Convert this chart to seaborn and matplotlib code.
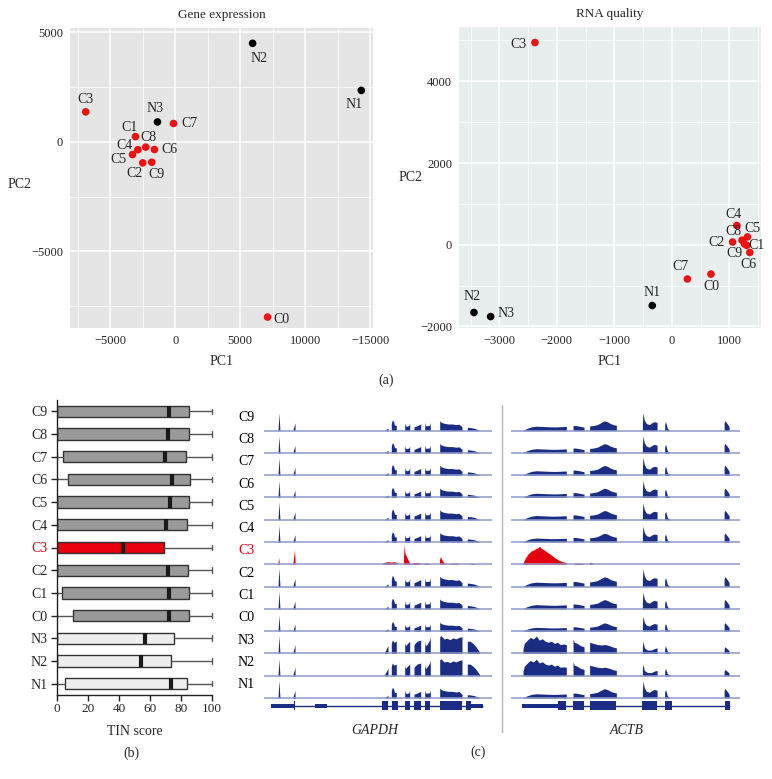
import numpy as np
import pandas as pd
import matplotlib
matplotlib.use("Agg")
import matplotlib.pyplot as plt
import seaborn as sns
from matplotlib.ticker import MultipleLocator, FixedLocator
from matplotlib.lines import Line2D
from matplotlib.patches import Rectangle

# ---- (a) PCA ----
pca_samples = ["C0", "C1", "C2", "C3", "C4", "C5", "C6", "C7", "C8", "C9", "N1", "N2", "N3"]
ge_pc1 = [7100, -3050, -2490, -6870, -2870, -3280, -1590, -130, -2260, -1800, 14300, 5950, -1360]
ge_pc2 = [-8000, 240, -960, 1370, -360, -580, -350, 840, -240, -930, 2350, 4500, 910]
rq_pc1 = [680, 1300, 1055, -2380, 1130, 1315, 1355, 270, 1220, 1260, -340, -3440, -3150]
rq_pc2 = [-720, -15, 65, 4950, 470, 190, -190, -840, 110, 20, -1490, -1660, -1760]
ge_xticklabels = ["\u22125000", "0", "5000", "10000", "\u221215000"]

# ---- (b) TIN score boxes: min, q1, median, q3, max ----
box_samples = ["C9", "C8", "C7", "C6", "C5", "C4", "C3", "C2", "C1", "C0", "N3", "N2", "N1"]
tin_min = [0, 0, 0, 0, 0, 0, 0, 0, 0, 0, 0, 0, 0]
tin_q1 = [0, 0, 3.7, 7.1, 0, 0, 0, 0, 3.4, 10.3, 0, 0, 5.2]
tin_med = [72.0, 71.4, 69.7, 74.2, 72.7, 70.5, 42.4, 71.6, 72.5, 72.5, 56.8, 54.4, 73.3]
tin_q3 = [85.2, 85.2, 83.4, 85.6, 85.2, 84.0, 68.8, 84.5, 85.2, 85.0, 75.5, 73.5, 84.0]
tin_max = [100, 100, 100, 100, 100, 100, 100, 100, 100, 100, 100, 100, 100]

# ---- (c) coverage tracks (x along track, height in track units) ----
tracks = ["C9", "C8", "C7", "C6", "C5", "C4", "C3", "C2", "C1", "C0", "N3", "N2", "N1"]
track_pattern = ["C", "C", "C", "C", "C", "C", "C3", "C", "C", "C", "N", "N", "C"]
gapdh_scale = [1.0, 0.95, 1.0, 0.95, 1.0, 0.95, 1.0, 1.05, 1.0, 0.9, 1.0, 0.95, 1.0]
actb_scale = [1.0, 0.95, 1.0, 0.95, 0.95, 0.9, 1.0, 1.0, 0.95, 0.85, 1.0, 0.95, 0.95]

gapdh_C = [
    ([14.0, 14.6, 15.0, 15.5, 16.0], [0, 0.5, 0.8, 0.35, 0]),
    ([29.0, 31.0, 31.1], [0.05, 0.35, 0]),
    ([120.5, 124.0, 124.1], [0, 0.12, 0]),
    ([127.3, 128.3, 129.5, 130.5, 132.3], [0.32, 0.48, 0.42, 0.25, 0.24]),
    ([140.7, 141.5, 143.2, 145.0, 145.7], [0.35, 0.22, 0.2, 0.24, 0.35]),
    ([150.0, 153.0, 156.7], [0.17, 0.22, 0.3]),
    ([160.7, 161.5, 163.5, 165.5, 166.3], [0.37, 0.22, 0.22, 0.24, 0.37]),
    ([175.7, 177, 180, 184, 188, 192, 195, 198], [0.45, 0.38, 0.33, 0.3, 0.3, 0.27, 0.29, 0.17]),
    ([203.3, 206, 210, 213, 215.7], [0.15, 0.14, 0.11, 0.06, 0.0]),
]
gapdh_N = [
    ([14.0, 14.6, 15.0, 15.5, 16.0], [0, 0.5, 0.8, 0.35, 0]),
    ([29.0, 31.0, 31.1], [0.05, 0.4, 0]),
    ([120.5, 124.0], [0.05, 0.35]),
    ([127.3, 128.3, 130.0, 132.3], [0.45, 0.6, 0.5, 0.55]),
    ([140.7, 141.5, 143.5, 145.7], [0.5, 0.35, 0.45, 0.55]),
    ([150.0, 153.0, 156.7], [0.4, 0.55, 0.6]),
    ([160.7, 161.5, 163.0, 165.5, 166.3], [0.55, 0.35, 0.4, 0.6, 0.75]),
    ([175.7, 177, 180, 183, 186, 189, 192, 195, 198], [0.75, 0.8, 0.65, 0.68, 0.62, 0.7, 0.65, 0.72, 0.75]),
    ([203.3, 206, 209, 212, 215.7], [0.55, 0.55, 0.45, 0.3, 0.05]),
]
gapdh_C3 = [
    ([14.0, 14.8, 15.3], [0.1, 0.3, 0]),
    ([29.0, 30.5, 31.2], [0.1, 0.65, 0]),
    ([118, 121, 124, 127, 130, 133], [0.03, 0.1, 0.12, 0.1, 0.12, 0.08]),
    ([139.5, 140.2, 141, 142.5, 144.5, 146], [0.3, 0.85, 0.5, 0.35, 0.15, 0.05]),
    ([148, 150, 153, 156], [0.05, 0.08, 0.09, 0.05]),
    ([160, 163, 165], [0.05, 0.06, 0.03]),
    ([175.5, 176.3, 178, 180, 182], [0.2, 0.35, 0.18, 0.08, 0.03]),
    ([186, 190, 194], [0.03, 0.05, 0.03]),
    ([205, 208, 211], [0.02, 0.04, 0.02]),
]
actb_C = [
    ([11.7, 15, 20, 25, 30, 35, 40, 45, 50, 55], [0, 0.09, 0.17, 0.2, 0.19, 0.18, 0.17, 0.17, 0.18, 0.19]),
    ([61.7, 64, 67, 70, 72.7], [0.23, 0.23, 0.21, 0.18, 0.16]),
    ([78.3, 82, 86, 90, 93, 96, 99, 102, 105], [0.21, 0.23, 0.27, 0.37, 0.44, 0.4, 0.32, 0.27, 0.24]),
    ([131, 131.6, 133, 135, 138, 141, 143, 145.7], [0.3, 0.8, 0.47, 0.32, 0.27, 0.37, 0.4, 0.37]),
    ([153.3, 154.2, 156, 158.3], [0.3, 0.4, 0.1, 0.02]),
    ([212.7, 213.5, 216, 217.7], [0.35, 0.45, 0.3, 0.18]),
]
actb_N = [
    ([11.7, 13, 16, 19, 22, 25, 28, 31, 34, 37, 40, 43, 46, 49, 52, 55],
     [0.2, 0.45, 0.6, 0.72, 0.65, 0.78, 0.6, 0.66, 0.55, 0.5, 0.55, 0.45, 0.5, 0.4, 0.42, 0.4]),
    ([61.7, 63, 66, 69, 72.7], [0.65, 0.5, 0.45, 0.35, 0.3]),
    ([78.3, 82, 86, 90, 94, 98, 102, 105], [0.5, 0.45, 0.4, 0.38, 0.4, 0.35, 0.28, 0.25]),
    ([131, 131.6, 133, 136, 140, 143, 145.7], [0.3, 0.55, 0.25, 0.15, 0.15, 0.22, 0.25]),
    ([153.3, 154, 156, 158.3], [0.2, 0.35, 0.1, 0.02]),
    ([212.7, 213.5, 216, 217.7], [0.2, 0.3, 0.2, 0.12]),
]
actb_C3 = [
    ([11.7, 14, 17, 20, 23, 25, 27, 28, 30, 33, 36, 40, 44, 48, 52, 55],
     [0.05, 0.28, 0.48, 0.6, 0.66, 0.72, 0.75, 0.82, 0.72, 0.64, 0.54, 0.42, 0.28, 0.17, 0.11, 0.08]),
    ([62, 66, 70, 73], [0.03, 0.06, 0.05, 0.02]),
    ([78.3, 80, 82], [0.1, 0.08, 0.02]),
]
# gene models: (start, end) of thick exons and thin UTR blocks
gapdh_utr = [(6.7, 29.5), (50.7, 63.3), (207.3, 219.0)]
gapdh_exon = [(29.5, 31.0), (118, 124), (128, 134), (140.7, 146), (150, 156.7), (161.3, 166), (175.7, 198), (202.3, 207.3)]
actb_utr = [(10.7, 46.7)]
actb_exon = [(46.7, 55), (61.7, 72.7), (78.3, 105), (131, 145.7), (154, 160.7), (213.3, 218.3)]

NAVY = "#1b2c84"
RED = "#e3000f"

sns.set_style("white")
plt.rcParams["font.family"] = ["Liberation Serif", "DejaVu Serif"]
plt.rcParams["axes.unicode_minus"] = True

W, H = 772, 779
fig = plt.figure(figsize=(W / 100, H / 100), dpi=100)


def px_axes(l, t, r, b):
    return fig.add_axes([l / W, 1 - b / H, (r - l) / W, (b - t) / H])


def draw_pca(ax, pc1, pc2, offsets, bg, title):
    df = pd.DataFrame({"sample": pca_samples, "PC1": pc1, "PC2": pc2,
                       "group": [s[0] for s in pca_samples]})
    sns.scatterplot(data=df, x="PC1", y="PC2", hue="group",
                    palette={"C": "#f01010", "N": "black"}, s=30, linewidth=0,
                    legend=False, ax=ax, zorder=3)
    for s, x, y, off in zip(pca_samples, pc1, pc2, offsets):
        ax.annotate(s, (x, y), xytext=off, textcoords="offset pixels",
                    ha="center", va="center", fontsize=10)
    ax.set_facecolor(bg)
    for sp in ax.spines.values():
        sp.set_visible(False)
    ax.grid(True, which="major", color="white", lw=1.1)
    ax.grid(True, which="minor", color="white", lw=0.5)
    ax.set_axisbelow(True)
    ax.tick_params(which="major", length=3, color="#444444", labelsize=9, pad=2)
    ax.tick_params(which="minor", length=0)
    ax.set_title(title, fontsize=9.5, pad=7)
    ax.set_xlabel("PC1", fontsize=10, labelpad=6)
    ax.set_ylabel("PC2", fontsize=10, rotation=0, va="center")


# (a) Gene expression
ax_ge = px_axes(70, 28, 373, 328)
ge_off = [(14, -2), (-6, 9), (-8, -11), (0, 12), (-13, 4), (-14, -5), (15, 0),
          (16, 0), (3, 10), (5, -12), (-7, -14), (6, -15), (-2, 13)]
draw_pca(ax_ge, ge_pc1, ge_pc2, ge_off, "#e5e5e5", "Gene expression")
ax_ge.set_xlim(-8080, 15200)
ax_ge.set_ylim(-8500, 5200)
ax_ge.xaxis.set_major_locator(FixedLocator([-5000, 0, 5000, 10000, 15000]))
ax_ge.set_xticklabels(ge_xticklabels)
ax_ge.xaxis.set_minor_locator(MultipleLocator(2500))
ax_ge.yaxis.set_major_locator(FixedLocator([-5000, 0, 5000]))
ax_ge.yaxis.set_minor_locator(MultipleLocator(2500))
ax_ge.yaxis.set_label_coords(-50 / 303, 0.48)

# (a) RNA quality
ax_rq = px_axes(459, 27, 761, 328)
rq_off = [(0, -12), (10, 0), (-16, 0), (-16, -2), (-3, 11), (5, 8), (-1, -12),
          (-7, 12), (-9, 9), (-10, -10), (0, 13), (-2, 16), (15, 3)]
draw_pca(ax_rq, rq_pc1, rq_pc2, rq_off, "#e8eded", "RNA quality")
ax_rq.set_xlim(-3700, 1550)
ax_rq.set_ylim(-2040, 5330)
ax_rq.xaxis.set_major_locator(MultipleLocator(1000))
ax_rq.xaxis.set_minor_locator(MultipleLocator(500))
ax_rq.yaxis.set_major_locator(MultipleLocator(2000))
ax_rq.yaxis.set_minor_locator(MultipleLocator(1000))
ax_rq.yaxis.set_label_coords(-48 / 302, 0.5)

fig.text(386 / W, 1 - 380 / H, "(a)", ha="center", va="center", fontsize=10)

# (b) TIN score boxplot
rows = []
for i, s in enumerate(box_samples):
    for v in (tin_min[i], tin_q1[i], tin_med[i], tin_q3[i], tin_max[i]):
        rows.append({"sample": s, "tin": v})
tin_df = pd.DataFrame(rows)
box_colors = {s: ("#e8000f" if s == "C3" else "#eeeeee" if s.startswith("N") else "#9a9a9a")
              for s in box_samples}
ax_box = px_axes(57, 400, 213.5, 695)
sns.boxplot(data=tin_df, x="tin", y="sample", hue="sample", order=box_samples,
            hue_order=box_samples, palette=box_colors, saturation=1, whis=(0, 100),
            width=0.5, linecolor="#333333", linewidth=1, fliersize=0, legend=False,
            dodge=False,
            medianprops=dict(color="#1a1a1a", linewidth=3),
            whiskerprops=dict(color="#555555", linewidth=1),
            capprops=dict(color="#555555", linewidth=1), ax=ax_box)
ax_box.set_xlim(0, 101)
ax_box.spines["bottom"].set_bounds(0, 100)
for sp in ("top", "right"):
    ax_box.spines[sp].set_visible(False)
for sp in ("left", "bottom"):
    ax_box.spines[sp].set_color("#222222")
    ax_box.spines[sp].set_linewidth(1)
ax_box.set_xticks([0, 20, 40, 60, 80, 100])
ax_box.tick_params(axis="both", direction="out", length=4, width=1, color="#222222",
                   bottom=True, left=True)
ax_box.tick_params(axis="x", labelsize=9.5, pad=2)
ax_box.tick_params(axis="y", labelsize=10, pad=3)
ax_box.set_ylabel("")
ax_box.set_xlabel("TIN score", fontsize=10, labelpad=7)
for lab in ax_box.get_yticklabels():
    if lab.get_text() == "C3":
        lab.set_color(RED)
fig.text(131.7 / W, 1 - 753 / H, "(b)", ha="center", va="center", fontsize=10)


# (c) coverage tracks
def draw_tracks(ax, patterns, scale, utr, exons, gene, label_x, show_labels):
    ax.set_xlim(0, 228.3)
    ax.set_ylim(-0.7, 12.9)
    ax.axis("off")
    for i, s in enumerate(tracks):
        base = 12 - i
        color = RED if track_pattern[i] == "C3" else NAVY
        for xs, hs in patterns[track_pattern[i]]:
            hs = np.asarray(hs) * scale[i]
            ax.fill_between(xs, base, base + hs, color=color, lw=0)
        ax.hlines(base, 0, 228.3, color="#8d9ac9", lw=1.1)
        if show_labels:
            ax.text(-26, base + 0.6, s, ha="left", va="center", fontsize=10,
                    color=RED if s == "C3" else "black", clip_on=False)
    gy = -0.35
    x0 = min(a for a, b in utr + exons)
    x1 = max(b for a, b in utr + exons)
    ax.hlines(gy, x0, x1, color=NAVY, lw=1)
    for a, b in utr:
        ax.add_patch(Rectangle((a, gy - 0.1), b - a, 0.2, color=NAVY, lw=0))
    for a, b in exons:
        ax.add_patch(Rectangle((a, gy - 0.2), b - a, 0.4, color=NAVY, lw=0))
    ax.text(label_x, -1.47, gene, ha="center", va="center", fontsize=10,
            style="italic", clip_on=False)


ax_g = px_axes(264, 410.6, 492.3, 713.6)
draw_tracks(ax_g, {"C": gapdh_C, "N": gapdh_N, "C3": gapdh_C3}, gapdh_scale,
            gapdh_utr, gapdh_exon, "GAPDH", 111, True)
ax_a = px_axes(511.3, 410.6, 739.7, 713.6)
draw_tracks(ax_a, {"C": actb_C, "N": actb_N, "C3": actb_C3}, actb_scale,
            actb_utr, actb_exon, "ACTB", 115.4, False)

fig.add_artist(Line2D([502.3 / W, 502.3 / W], [1 - 405 / H, 1 - 732 / H],
                      color="#b5b5b5", lw=1))
fig.text(478 / W, 1 - 752 / H, "(c)", ha="center", va="center", fontsize=10)

fig.savefig("out.png", dpi=100)
